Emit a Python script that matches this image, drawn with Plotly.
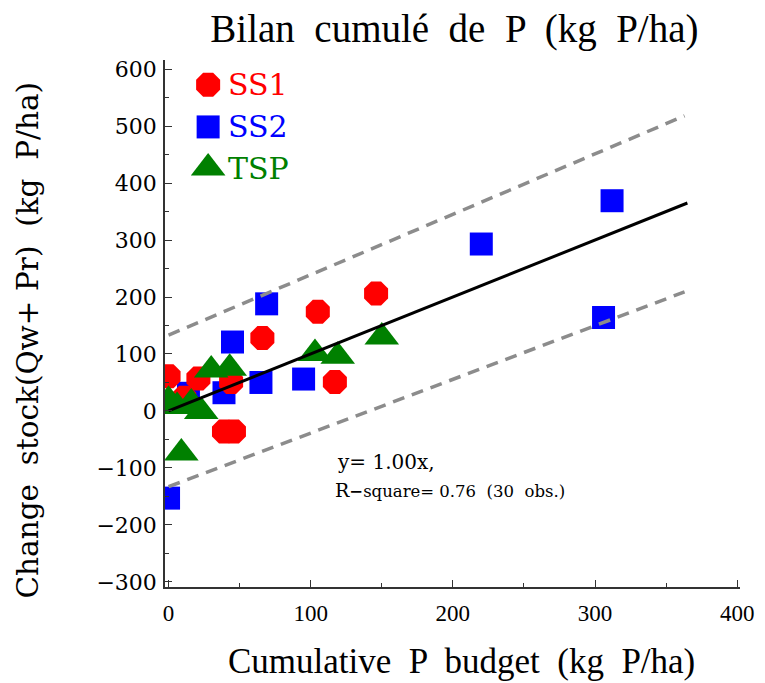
import plotly.graph_objects as go

# Cumulative P budget (x) vs. change in stock Qw+Pr (y), kg P/ha
ss1_x = [0, 11, 21, 39, 46, 44, 66, 105, 117, 146]
ss1_y = [61, 23, 57, -36, -36, 51, 128, 174, 51, 206]

ss2_x = [0, 14, 39, 45, 65, 69, 95, 220, 306, 312]
ss2_y = [-153, 31, 32, 121, 50, 188, 56, 293, 164, 369]

tsp_x = [0, 6, 9, 16, 23, 30, 43, 103, 119, 150]
tsp_y = [19, 8, -74, 14, -1, 72, 75, 101, 96, 130]

# Fitted line y = 1.00x and its prediction band
fit_x = [0, 365]
fit_y = [0, 365]
band_x = [0, 363]
band_upper = [133, 518]
band_lower = [-133, 209]

x_ticks = [0, 100, 200, 300, 400]
y_ticks = [-300, -200, -100, 0, 100, 200, 300, 400, 500, 600]

series_names = ["SS1", "SS2", "TSP"]
series_colors = ["#ff0000", "#0000ff", "#008000"]
series_symbols = ["octagon", "square", "triangle-up"]
series_sizes = [26, 23, 30]

SERIF = "Liberation Serif"
WIDE_SERIF = "DejaVu Serif"

fig = go.Figure()

for xs, ys, col, sym, sz in [
    (ss2_x, ss2_y, series_colors[1], series_symbols[1], series_sizes[1]),
    (ss1_x, ss1_y, series_colors[0], series_symbols[0], series_sizes[0]),
    (tsp_x, tsp_y, series_colors[2], series_symbols[2], series_sizes[2]),
]:
    fig.add_trace(go.Scatter(
        x=xs, y=ys, mode="markers",
        marker=dict(symbol=sym, size=sz, color=col, line=dict(width=0)),
        showlegend=False, hoverinfo="x+y",
    ))

for ys in (band_upper, band_lower):
    fig.add_trace(go.Scatter(
        x=band_x, y=ys, mode="lines",
        line=dict(color="#8c8c8c", width=3.5, dash="12px,8px"),
        showlegend=False, hoverinfo="skip",
    ))

fig.add_trace(go.Scatter(
    x=fit_x, y=fit_y, mode="lines",
    line=dict(color="black", width=3),
    showlegend=False, hoverinfo="skip",
))

# Hand-placed key in a unit overlay axis
key_x = 0.075
key_y = [0.953, 0.873, 0.795]
for name, col, sym, sz, ky in zip(series_names, series_colors, series_symbols, series_sizes, key_y):
    fig.add_trace(go.Scatter(
        x=[key_x], y=[ky], xaxis="x2", yaxis="y2", mode="markers",
        marker=dict(symbol=sym, size=sz, color=col, line=dict(width=0)),
        showlegend=False, hoverinfo="skip",
    ))
    fig.add_annotation(
        x=0.106, y=ky, xref="paper", yref="paper", text=name,
        showarrow=False, xanchor="left", yanchor="middle",
        font=dict(family=WIDE_SERIF, size=30, color=col),
    )

fig.add_annotation(
    x=0.296, y=0.237, xref="paper", yref="paper", text="y= 1.00x,",
    showarrow=False, xanchor="left", yanchor="middle",
    font=dict(family=WIDE_SERIF, size=20, color="black"),
)
fig.add_annotation(
    x=0.293, y=0.184, xref="paper", yref="paper",
    text="<span style='font-size:19px'>R</span><b>−</b>square= 0.76  (30  obs.)",
    showarrow=False, xanchor="left", yanchor="middle",
    font=dict(family=WIDE_SERIF, size=16.5, color="black"),
)

# Axis titles
fig.add_annotation(
    x=0.515, y=-0.142, xref="paper", yref="paper",
    text="Cumulative  P  budget  (kg  P/ha)",
    showarrow=False, xanchor="center", yanchor="middle",
    font=dict(family=SERIF, size=35, color="black"),
)
fig.add_annotation(
    x=-0.238, y=0.468, xref="paper", yref="paper",
    text="Change  stock(Qw+ Pr)  (kg  P/ha)", textangle=-90,
    showarrow=False, xanchor="center", yanchor="middle",
    font=dict(family=WIDE_SERIF, size=29.5, color="black"),
)

fig.update_layout(
    width=765, height=683,
    margin=dict(l=165, r=25, t=60, b=96),
    paper_bgcolor="white", plot_bgcolor="white",
    title=dict(
        text="Bilan  cumulé  de  P  (kg  P/ha)",
        x=0.594, xanchor="center", y=1 - 28 / 683, yanchor="middle",
        font=dict(family=SERIF, size=39, color="black"),
    ),
    xaxis=dict(
        range=[-2.5, 402], tickvals=x_ticks, ticktext=[str(v) for v in x_ticks],
        showgrid=False, zeroline=False, showline=True, linecolor="#333", linewidth=1.5,
        ticks="inside", ticklen=7, tickcolor="#333", tickwidth=1.2,
        minor=dict(dtick=50, ticks="inside", ticklen=4, tickcolor="#333", tickwidth=1),
        tickfont=dict(family=SERIF, size=23, color="black"),
        ticklabelstandoff=5,
    ),
    yaxis=dict(
        range=[-309, 616], tickvals=y_ticks,
        showgrid=False, zeroline=False, showline=True, linecolor="#333", linewidth=1.5,
        ticks="inside", ticklen=7, tickcolor="#333", tickwidth=1.2,
        minor=dict(dtick=50, ticks="inside", ticklen=4, tickcolor="#333", tickwidth=1),
        tickfont=dict(family=WIDE_SERIF, size=22, color="black"),
        ticklabelstandoff=2,
    ),
    xaxis2=dict(range=[0, 1], overlaying="x", visible=False, fixedrange=True),
    yaxis2=dict(range=[0, 1], overlaying="y", visible=False, fixedrange=True),
)

fig.write_html("out.html")
